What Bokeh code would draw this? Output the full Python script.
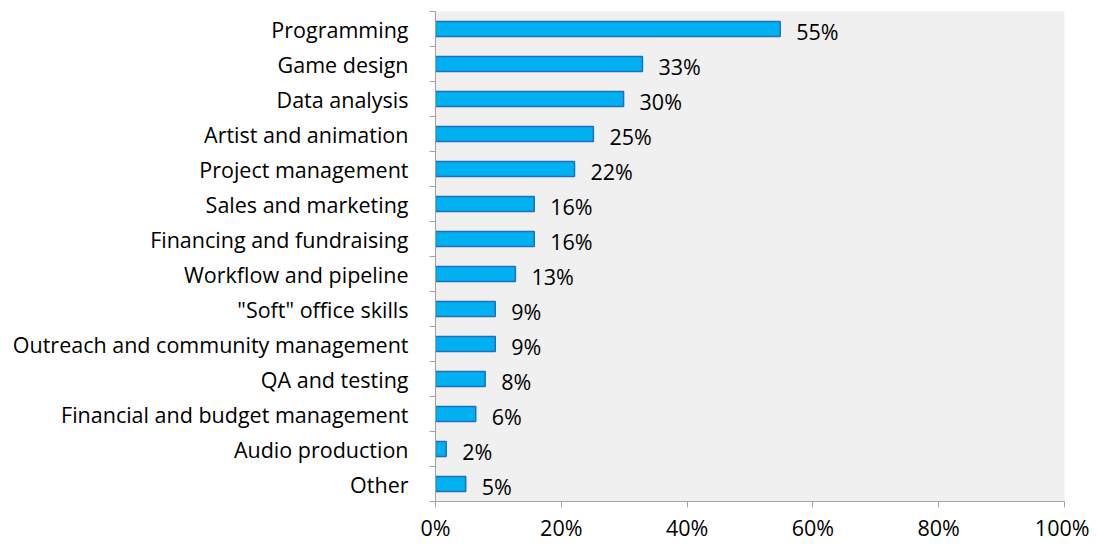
from bokeh.plotting import figure
from bokeh.models import FixedTicker, NumeralTickFormatter, ColumnDataSource, Range1d
from bokeh.core.properties import value
from bokeh.embed import file_html
from bokeh.resources import INLINE

categories = ["Programming", "Game design", "Data analysis", "Artist and animation",
              "Project management", "Sales and marketing", "Financing and fundraising",
              "Workflow and pipeline", "\"Soft\" office skills",
              "Outreach and community management", "QA and testing",
              "Financial and budget management", "Audio production", "Other"]
shares = [0.548, 0.329, 0.299, 0.251, 0.221, 0.157, 0.157, 0.127, 0.095, 0.095,
          0.079, 0.064, 0.017, 0.048]
labels = ["55%", "33%", "30%", "25%", "22%", "16%", "16%", "13%", "9%", "9%",
          "8%", "6%", "2%", "5%"]
x_ticks = [0, 0.2, 0.4, 0.6, 0.8, 1.0]

n = len(categories)
ypos = [n - 1 - i for i in range(n)]
src = ColumnDataSource(dict(y=ypos, v=shares, lab=labels))

FONT = "Open Sans"
FS = "21.5px"

p = figure(width=1089, height=544, output_backend="svg", toolbar_location=None,
           x_range=Range1d(0, 1), y_range=Range1d(-0.5, n - 0.5),
           min_border_left=435, min_border_right=25, min_border_top=11,
           min_border_bottom=39)
p.background_fill_color = "#f0f0f0"
p.border_fill_color = "white"
p.outline_line_color = None
p.xgrid.visible = False
p.ygrid.visible = False

p.hbar(y="y", right="v", left=0, height=0.43, source=src,
       fill_color="#00b0f0", line_color="#1f6fbf", line_width=1.5)
p.text(x="v", y="y", text="lab", source=src, x_offset=16, y_offset=2,
       text_baseline="middle", text_align="left", text_font=value(FONT),
       text_font_size=FS, text_color="black")

# x axis
p.xaxis.ticker = FixedTicker(ticks=x_ticks)
p.xaxis.formatter = NumeralTickFormatter(format="0%")
p.xaxis.axis_line_color = "#a0a0a0"
p.xaxis.major_tick_line_color = "#a0a0a0"
p.xaxis.major_tick_out = 6
p.xaxis.major_tick_in = 0
p.xaxis.minor_tick_line_color = None
p.xaxis.major_label_text_font = FONT
p.xaxis.major_label_text_font_size = FS
p.xaxis.major_label_text_color = "black"
p.xaxis.major_label_standoff = 5

# y axis: labels at category centers, ticks at boundaries (minor ticks)
bounds = [k - 0.5 for k in range(n + 1)]
p.yaxis.ticker = FixedTicker(ticks=ypos, minor_ticks=bounds)
p.yaxis.major_label_overrides = {y: c for y, c in zip(ypos, categories)}
p.yaxis.axis_line_color = "#a0a0a0"
p.yaxis.major_tick_line_color = None
p.yaxis.major_tick_out = 0
p.yaxis.major_tick_in = 0
p.yaxis.minor_tick_line_color = "#a0a0a0"
p.yaxis.minor_tick_out = 6
p.yaxis.minor_tick_in = 0
p.yaxis.major_label_text_font = FONT
p.yaxis.major_label_text_font_size = FS
p.yaxis.major_label_text_color = "black"
p.yaxis.major_label_standoff = 21

open("out.html", "w").write(file_html(p, INLINE))
